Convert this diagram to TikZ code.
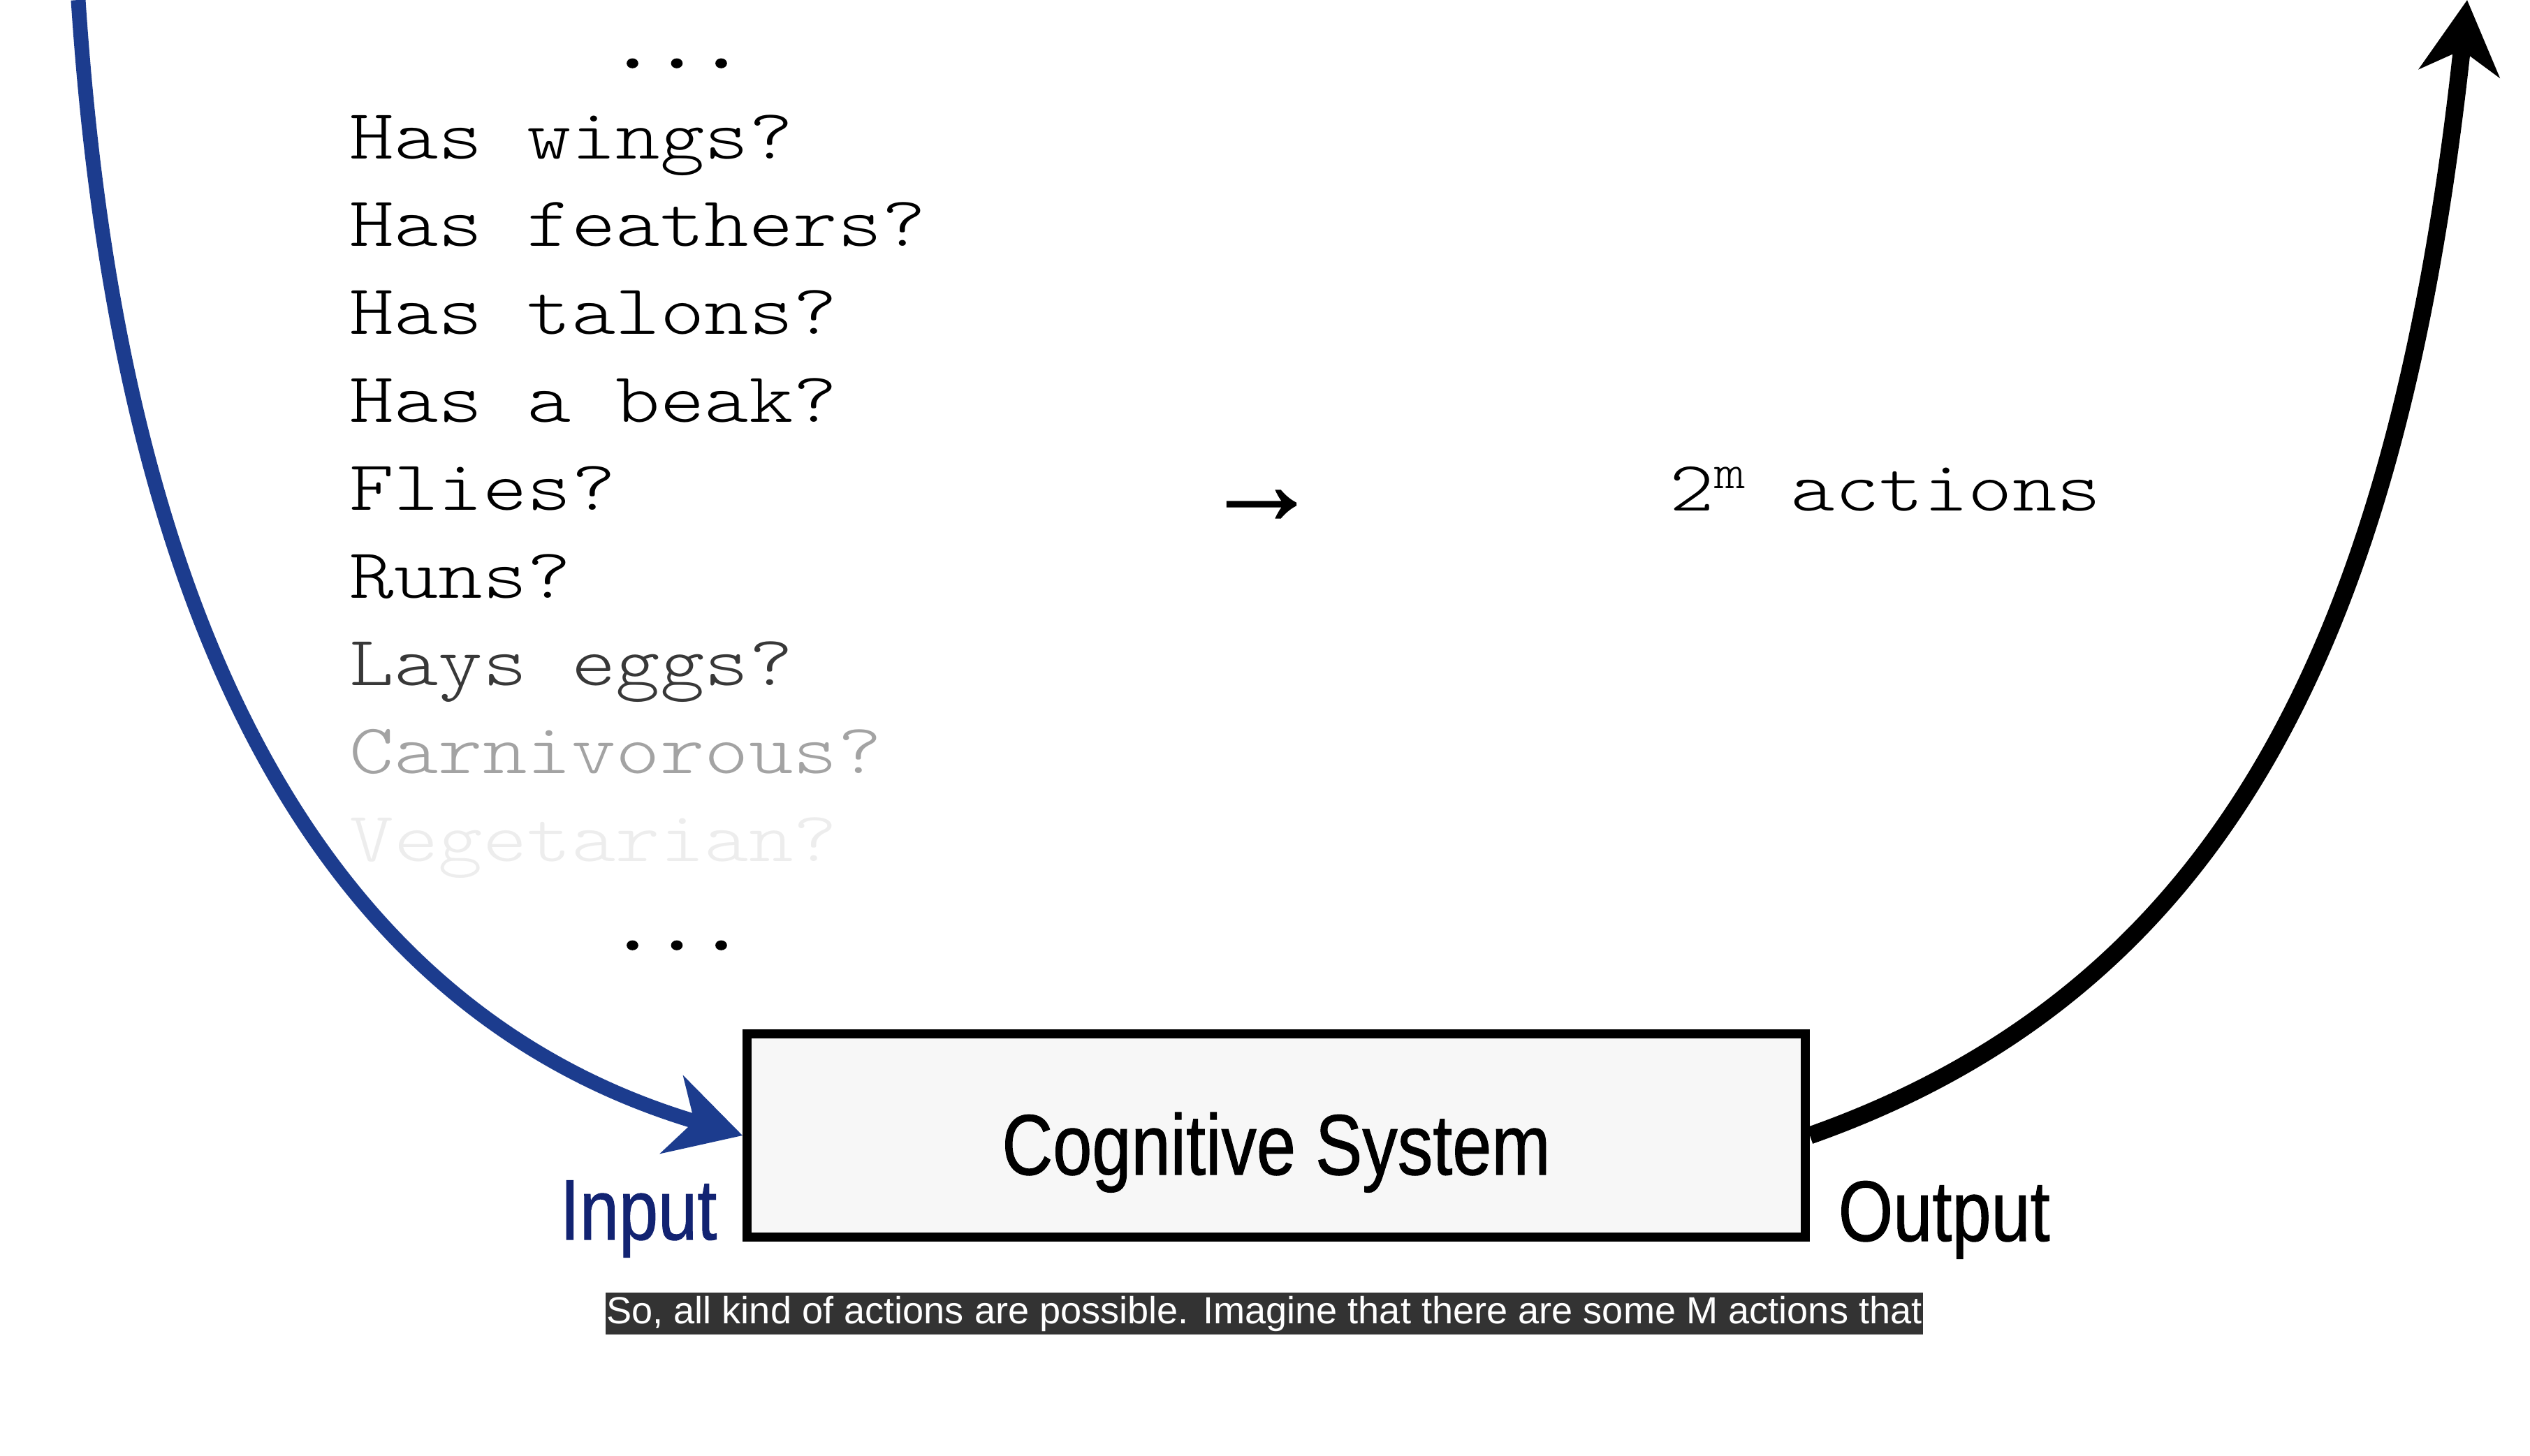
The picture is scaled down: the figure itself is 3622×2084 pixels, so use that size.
\documentclass[tikz,border=0pt]{standalone}
\usepackage{fontspec}
\usepackage{tikz}
\usetikzlibrary{arrows.meta}
\newfontfamily\listfont{lmmonolt10-regular}[Extension=.otf, FakeStretch=1.19]
\newfontfamily\dotfont{lmmono10-regular}[Extension=.otf, FakeStretch=1.19, FakeBold=1.5]
\newfontfamily\arrowfont{Liberation Serif}[FakeBold=1.5]
\newfontfamily\boxfont{Liberation Sans}[FakeStretch=0.82, FakeBold=0.8]
\newfontfamily\subfont{Liberation Sans}
\definecolor{inblue}{HTML}{1C3C8E}
\definecolor{inlabel}{HTML}{122372}
\definecolor{boxfill}{HTML}{F7F7F7}
\definecolor{subbg}{HTML}{333333}

\begin{document}
\begin{tikzpicture}[x=0.01cm, y=-0.01cm,
    question/.style={anchor=base west, inner sep=0pt, font=\listfont\fontsize{28.9}{30}\selectfont},
    more/.style={anchor=base west, inner sep=0pt, font=\dotfont\fontsize{28.9}{30}\selectfont},
    biglabel/.style={inner sep=0pt, font=\boxfont\fontsize{35}{40}\selectfont},
    flow/.style={-{Stealth[length=1.05cm, width=1.15cm, inset=0.33cm]}}]
  \useasboundingbox[fill=white] (0,0) rectangle (3622,2084);

  % --- feature questions, fading out ---
  \node[more] (dotstop) at (873,97) {...};
  \foreach \txt/\col [count=\i from 0] in {Has wings?/black, Has feathers?/black,
      Has talons?/black, Has a beak?/black, Flies?/black, Runs?/black,
      Lays eggs?/black!78, Carnivorous?/black!36, Vegetarian?/black!7}
    \node[question, text=\col] (q\i) at (500,{227+125.8*\i}) {\txt};
  \node[more] (dotsbot) at (873,1360) {...};

  % --- m bits -> actions ---
  \node[inner sep=0pt, font=\arrowfont\fontsize{47}{50}\selectfont] (maps) at (1806,726) {→};
  \node[question] (acts) at (2390,731) {2\textsuperscript{m} actions};

  % --- the system and its loop ---
  \node[biglabel, draw, line width=0.13cm, fill=boxfill, minimum width=15.14cm,
        minimum height=2.9cm, text height=1.12cm, text depth=0pt] (sys) at (1827,1626) {Cognitive System};
  \node[biglabel, anchor=base east, text=inlabel] (inlab) at (1027,1775) {Input};
  \node[biglabel, anchor=base west] (outlab) at (2631,1777) {Output};

  \coordinate (intop) at (112,0);
  \coordinate (outtop) at (3532,0);
  \draw[flow, inblue, line width=0.21cm] (intop) .. controls (171,900) and (463,1449) .. (sys.west);
  \draw[flow, line width=0.25cm] (sys.east) .. controls (3191,1414) and (3435,900) .. (outtop);

  % --- subtitle bar ---
  \node[fill=subbg, text=white, font=\subfont\fontsize{15.4}{18}\selectfont, minimum width=18.85cm,
        minimum height=0.6cm, inner sep=0pt] (caption) at (1810,1881)
        {So, all kind of actions are possible. Imagine that there are some M actions that};
\end{tikzpicture}
\end{document}
